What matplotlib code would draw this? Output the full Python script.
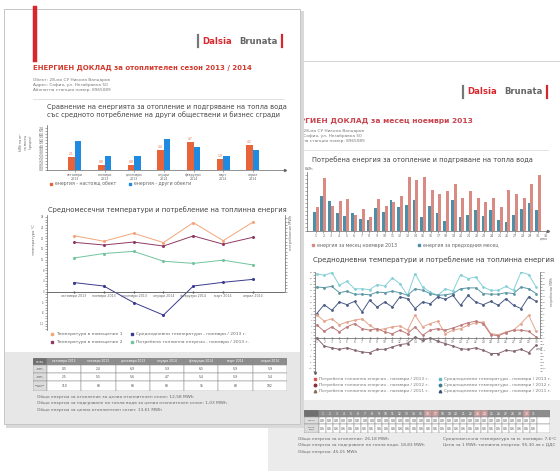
import matplotlib
matplotlib.use("Agg")
import matplotlib.pyplot as plt
from matplotlib.patches import Rectangle
from matplotlib.lines import Line2D

W, H = 560, 471

# ---- left page data (heating season 2013/2014) ----
months = ["октомври\n2013", "ноември\n2013", "декември\n2013", "януари\n2014",
          "февруари\n2014", "март\n2014", "април\n2014"]
months_long = ["октомври 2013", "ноември 2013", "декември 2013", "януари 2014",
               "февруари 2014", "март 2014", "април 2014"]
energy_site = [2.1, 0.8, 0.8, 3.4, 4.7, 1.9, 4.2]
energy_others = [4.8, 2.4, 2.4, 5.1, 3.8, 2.4, 3.4]
room1 = [21.0, 18.9, 21.9, 18.4, 25.9, 19.1, 26.1]
room2 = [18.5, 17.5, 18.6, 17.1, 20.9, 17.8, 20.4]
outdoor = [3.4, 2.1, -4.1, -8.8, 2.1, 3.5, 4.6]
heat_mwh = [2.52, 2.86, 3.02, 2.28, 2.12, 2.36, 2.00]
season_rows = ["темп.\nпом. 1", "темп.\nпом. 2", "енергия\nMWh"]
season_table = [["0.5", "2.4", "6.9", "5.9", "6.5", "5.9", "5.9"],
                ["2.5", "5.5", "5.6", "4.7", "5.4", "5.9", "5.4"],
                ["110", "88", "88", "88", "95", "88", "102"]]
season_totals = ["Общо енергия за отопление за целия отоплителен сезон: 12,58 MWh",
                 "Общо енергия за подгряване на топла вода за целия отоплителен сезон: 1,03 MWh",
                 "Общо енергия за целия отоплителен сезон: 13,61 MWh"]

# ---- right page data (November 2013) ----
days = list(range(1, 31))
day_ticks = list(range(1, 32))
energy_nov = [600, 1325, 625, 750, 800, 400, 550, 350, 800, 625, 725, 875, 1350, 1275, 1350,
              1025, 925, 1000, 1175, 825, 1000, 825, 725, 825, 600, 1025, 925, 825, 1175, 1400]
energy_prev = [475, 875, 750, 450, 375, 450, 300, 275, 575, 475, 775, 600, 650, 775, 350,
               625, 450, 250, 775, 350, 400, 525, 375, 525, 275, 225, 400, 550, 700, 525]
temp_2013 = [21.5, 21.0, 21.9, 17.7, 19.0, 16.5, 16.5, 16.2, 17.9, 17.4, 20.1, 18.2, 14.3, 21.5, 17.1,
             15.4, 14.3, 16.5, 15.7, 21.2, 19.9, 20.4, 17.1, 16.0, 16.0, 17.3, 16.0, 22.1, 21.2, 17.1]
temp_2012 = [17.1, 16.9, 17.3, 15.2, 15.7, 14.7, 14.7, 14.5, 15.4, 15.2, 15.7, 15.2, 14.3, 16.5, 16.0,
             14.9, 14.3, 14.5, 14.9, 16.5, 16.8, 16.8, 14.9, 14.7, 14.7, 15.2, 14.9, 17.1, 16.5, 14.9]
temp_2011 = [8.2, 11.2, 9.3, 12.1, 11.2, 12.3, 8.8, 12.7, 10.4, 12.1, 10.4, 13.8, 13.2, 9.9, 12.1,
             11.5, 13.8, 13.0, 14.3, 11.0, 14.3, 12.1, 11.2, 12.3, 11.0, 13.2, 11.0, 9.9, 13.8, 12.3]
heat_2013 = [7.9, 5.7, 6.5, 4.5, 5.4, 6.0, 6.5, 4.3, 2.7, 3.2, 3.8, 4.1, 2.7, 7.7, 3.8,
             4.9, 5.7, 1.5, 2.7, 3.2, 4.3, 5.2, 5.4, 1.5, 1.2, 2.1, 2.7, 4.9, 7.7, 2.3]
heat_2012 = [4.5, 2.3, 3.8, 2.1, 3.8, 4.9, 3.2, 2.7, 3.2, 2.1, 1.5, 2.7, 1.5, 3.8, 1.0,
             2.7, 3.2, 2.7, 3.4, 4.3, 5.2, 5.7, 4.9, 1.2, 0.8, 1.9, 2.7, 2.7, 2.3, 0.4]
heat_2011 = [0.1, -2.6, -3.2, -3.7, -3.2, -4.0, -4.6, -4.8, -3.7, -3.7, -2.9, -2.1, -1.8, 0.4, -0.7,
             0.1, -1.0, -1.8, -2.6, -3.5, -3.7, -3.2, -4.0, -5.1, -5.1, -4.0, -4.3, -3.7, -4.8, -2.3]
daily_heat = ["0.8"] * 31
daily_water = ["0.6"] * 31
month_totals = ["Общо енергия за отопление: 26,18 MWh",
                "Общо енергия за подгряване на топла вода: 18,83 MWh",
                "Общо енергия: 45,01 MWh"]
month_notes = ["Средномесечна температура за м. ноември: 7,6°C",
               "Цена за 1 MWh топлинна енергия: 95,30 лв с ДДС"]

RED = "#d9262c"
GRAY_TXT = "#555555"

fig = plt.figure(figsize=(W / 100, H / 100), dpi=100)
fig.patch.set_facecolor("white")


def box(x0, y0, x1, y1):
    return [x0 / W, 1 - y1 / H, (x1 - x0) / W, (y1 - y0) / H]


def rect(x0, y0, x1, y1, fc, ec="none", lw=0.5, z=0):
    fig.add_artist(Rectangle((x0 / W, 1 - y1 / H), (x1 - x0) / W, (y1 - y0) / H,
                             transform=fig.transFigure, facecolor=fc, edgecolor=ec,
                             linewidth=lw, zorder=z))


def line(xs, ys, color, lw=0.6, z=0):
    fig.add_artist(Line2D([x / W for x in xs], [1 - y / H for y in ys],
                          transform=fig.transFigure, color=color, lw=lw, zorder=z))


def txt(x, y, s, size, color=GRAY_TXT, z=0, **kw):
    kw.setdefault("va", "center")
    fig.text(x / W, 1 - y / H, s, fontsize=size, color=color, zorder=z, **kw)


def mark(x, y, color, m, size, z):
    fig.add_artist(Line2D([x / W], [1 - y / H], transform=fig.transFigure, marker=m,
                          color=color, markersize=size, linestyle="none", zorder=z))


def logo(x, y, z):
    line([x, x], [y - 6, y + 6], "#777777", lw=1.6, z=z)
    txt(x + 4, y, "Dalsia", 6.1, RED, z, weight="bold")
    txt(x + 41, y, "Brunata", 6.1, "#666666", z, weight="bold")
    line([x + 84, x + 84], [y - 6, y + 6], RED, lw=1.6, z=z)


def style_small(ax):
    for s in ax.spines.values():
        s.set_color("#666666")
        s.set_linewidth(0.5)
    ax.tick_params(length=1.2, width=0.4, pad=0.8, labelsize=2.3, colors="#666666")


def table(ax, x0, x1, y_rows, col_w0, headers, rows, row_labels, hdr_colors=None):
    ax.set_xlim(x0, x1)
    ax.set_ylim(y_rows[-1], y_rows[0])
    ax.axis("off")
    n = len(headers)
    cw = (x1 - x0 - col_w0 - (0 if hdr_colors is None else 13)) / n
    xs = [x0, x0 + col_w0] + [x0 + col_w0 + cw * (i + 1) for i in range(n)]
    if hdr_colors is not None:
        xs.append(x1)
    for r in range(len(y_rows) - 1):
        ya, yb = y_rows[r], y_rows[r + 1]
        for c in range(len(xs) - 1):
            if r == 0:
                fc = "#6f6f6f" if c == 0 else "#8d8d8d"
                if hdr_colors is not None and 0 < c <= n and hdr_colors[c - 1]:
                    fc = "#c99a9a"
            else:
                fc = "#dcdcdc" if c == 0 else "white"
            ax.add_patch(Rectangle((xs[c], ya), xs[c + 1] - xs[c], yb - ya, facecolor=fc,
                                   edgecolor="#8a8a8a", linewidth=0.35))
            cx = (xs[c] + xs[c + 1]) / 2
            cy = (ya + yb) / 2
            if r == 0 and 0 < c <= n:
                ax.text(cx, cy, headers[c - 1], fontsize=2.2, color="white", ha="center", va="center")
            elif r > 0 and c == 0:
                ax.text(cx, cy, row_labels[r - 1], fontsize=1.7, color="#555555", ha="center", va="center")
            elif r > 0 and c <= n:
                ax.text(cx, cy, rows[r - 1][c - 1], fontsize=2.2, color="#444444", ha="center", va="center")
    if hdr_colors is None:
        ax.text((xs[0] + xs[1]) / 2, (y_rows[0] + y_rows[1]) / 2, "месец", fontsize=1.8,
                color="white", ha="center", va="center")


# ================= right page (behind) =================
rect(268, 61, 562, 473, "white", ec="#cccccc", lw=0.6, z=-3)
rect(268, 400, 562, 473, "#ebebeb", z=-2)
logo(463, 92, 1)
txt(283, 121, "ЕНЕРГИЕН ДОКЛАД за месец ноември 2013", 5.4, "#c9434c", 1, weight="bold")
txt(287, 131, "Обект: 28-мо СУ Никола Вапцаров", 3.1, "#777777", 1)
txt(287, 136, "Адрес: София, ул. Незабравка 50", 3.1, "#777777", 1)
txt(287, 141, "Абонатна станция номер: 8965089", 3.1, "#777777", 1)
line([300, 548], [150, 150], "#dddddd", lw=0.6, z=1)
txt(312, 160, "Потребена енергия за отопление и подгряване на топла вода", 4.8, "#444444", 1)

ax = fig.add_axes(box(307, 172, 548, 231), zorder=1)
ax.set_facecolor("none")
ax.bar([d - 0.19 for d in days], energy_prev, width=0.36, color="#4d8fa6")
ax.bar([d + 0.19 for d in days], energy_nov, width=0.36, color="#d98a82")
ax.set_xlim(-0.13, 31.3)
ax.set_ylim(0, 1475)
ax.set_xticks(day_ticks)
ax.set_yticks(range(0, 1500, 100))
ax.spines["top"].set_visible(False)
ax.spines["right"].set_visible(False)
style_small(ax)
ax.plot(1, 0, ">", color="#666666", markersize=1.5, transform=ax.transAxes, clip_on=False)
txt(305, 169, "kWh", 2.8, "#666666", 1)
txt(540, 239, "дни", 2.8, "#666666", 1)
mark(313, 245, "#d98a82", "s", 2, 1)
txt(317, 245, "енергия за месец ноември 2013", 3.4, "#666666", 1)
mark(419, 245, "#4d8fa6", "s", 2, 1)
txt(423, 245, "енергия за предходния месец", 3.4, "#666666", 1)

txt(313, 260, "Среднодневни температури и потребление на топлинна енергия", 5.0, "#444444", 1)
ax = fig.add_axes(box(315, 272, 540, 373), zorder=1)
ax.set_facecolor("none")
right_series = [(temp_2013, "#86d0d8"), (temp_2012, "#5b98a6"), (temp_2011, "#4b5d85"),
                (heat_2013, "#e3a58f"), (heat_2012, "#bf7c7c"), (heat_2011, "#86686f")]
for vals, col in right_series:
    ax.plot(days, vals, color=col, lw=0.7, marker="o", markersize=1.0)
ax.axhline(0, color="#777777", lw=0.6)
ax.plot(days, [0] * len(days), "|", color="#777777", markersize=2)
for d in days:
    ax.text(d, -0.7, str(d), fontsize=2.1, color="#666666", ha="center", va="top")
ax.set_xlim(0.78, 30.5)
ax.set_ylim(-11.6, 22.1)
ax.set_xticks([])
ax.set_yticks(range(-11, 23, 1))
ax.set_yticklabels([str(v) if v % 2 == 0 else "" for v in range(-11, 23, 1)])
ax.spines["top"].set_visible(False)
ax.spines["bottom"].set_visible(False)
ax.spines["right"].set_bounds(0, 22)
ax.yaxis.set_ticks_position("both")
style_small(ax)
ax.tick_params(axis="y", labelsize=1.6, labelright=True)
ax.plot(0, 0, "v", color="#666666", markersize=1.5, transform=ax.transAxes, clip_on=False)
txt(536, 348, "дни", 2.6, "#666666", 1)
txt(552, 292, "потребление MWh", 2.2, "#666666", 1, rotation=90, ha="center")
right_legend = [(315, 379, "#d9534f", "s", "Потребена топлинна енергия - ноември / 2013 г."),
                (315, 385, "#8b2e3c", "o", "Потребена топлинна енергия - ноември / 2012 г."),
                (315, 391, "#8a6a50", "^", "Потребена топлинна енергия - ноември / 2011 г."),
                (440, 379, "#5fb8c4", "s", "Среднодневни температури - ноември / 2013 г."),
                (440, 385, "#3f8090", "o", "Среднодневни температури - ноември / 2012 г."),
                (440, 391, "#3b4f7a", "^", "Среднодневни температури - ноември / 2011 г.")]
for x, y, col, m, lab in right_legend:
    mark(x, y, col, m, 1.8, 1)
    txt(x + 4, y, lab, 3.1, "#777777", 1)

tax = fig.add_axes(box(304, 410, 550, 433), zorder=1)
weekend = [d in (16, 17, 23, 24, 30) for d in day_ticks]
table(tax, 304, 550, [410, 417, 424, 433], 15, [str(d) for d in day_ticks],
      [daily_heat, daily_water], ["отопл.", "топла\nвода"], hdr_colors=weekend)
for i, s in enumerate(month_totals):
    txt(298, 439 + 6.3 * i, s, 3.1, "#666666", 1)
for i, s in enumerate(month_notes):
    txt(443, 439 + 6.3 * i, s, 3.1, "#666666", 1)

# ================= left page (front) =================
rect(6, 11, 304, 428, "#d9d9d9", z=4.5)
rect(4, 9, 300, 424, "white", z=5)
rect(4, 352, 300, 424, "#e7e7e7", z=5.1)
rect(4, 9, 300, 424, "none", ec="#c6c6c6", lw=0.7, z=5.2)
line([35, 35], [8, 60], RED, lw=3.2, z=7)
logo(198, 41, 7)
txt(33, 68, "ЕНЕРГИЕН ДОКЛАД за отоплителен сезон 2013 / 2014", 5.0, "#d23a2e", 7, weight="bold")
txt(33, 80, "Обект: 28-мо СУ Никола Вапцаров", 3.1, "#777777", 7)
txt(33, 85, "Адрес: София, ул. Незабравка 50", 3.1, "#777777", 7)
txt(33, 90, "Абонатна станция номер: 8965089", 3.1, "#777777", 7)
line([33, 284], [99, 99], "#dddddd", lw=0.6, z=7)
txt(47, 107, "Сравнение на енергията за отопление и подгряване на топла вода", 4.8, "#444444", 7)
txt(47, 115, "със средното потребление на други обществени и бизнес сгради", 4.8, "#444444", 7)

ax = fig.add_axes(box(47, 125, 285, 170), zorder=6)
ax.set_facecolor("none")
idx = list(range(len(months)))
ax.bar([i - 0.11 for i in idx], energy_site, width=0.22, color="#e8633a")
ax.bar([i + 0.11 for i in idx], energy_others, width=0.22, color="#1f8ae0")
for i, v in zip(idx, energy_site):
    ax.text(i - 0.11, v + 0.15, f"{v:.1f}", fontsize=2.2, color="#e8633a", ha="center", va="bottom")
ax.set_xlim(-0.94, 7.08)
ax.set_ylim(0, 7.5)
ax.set_xticks(idx)
ax.set_xticklabels(months)
ax.set_yticks([v / 2 for v in range(0, 15)])
ax.spines["top"].set_visible(False)
ax.spines["right"].set_visible(False)
style_small(ax)
ax.tick_params(axis="x", labelsize=2.3)
ax.plot(1, 0, ">", color="#666666", markersize=1.5, transform=ax.transAxes, clip_on=False)
txt(26, 142, "kWh на m²\nза месец\n(средно)", 2.3, "#666666", 7, rotation=90, ha="center")
mark(51, 184, "#e8633a", "s", 2, 7)
txt(55, 184, "енергия - настоящ обект", 3.3, "#666666", 7)
mark(130, 184, "#1f8ae0", "s", 2, 7)
txt(134, 184, "енергия - други обекти", 3.3, "#666666", 7)

txt(48, 210, "Средномесечни температури и потребление на топлинна енергия", 4.9, "#444444", 7)
ax = fig.add_axes(box(47, 215, 285, 330), zorder=6)
ax.set_facecolor("none")
ax.plot(idx, room1, color="#f2a57a", lw=0.7, marker="o", markersize=1.2)
ax.plot(idx, room2, color="#8e3a64", lw=0.7, marker="o", markersize=1.2)
ax.plot(idx, outdoor, color="#3a3b8e", lw=0.7, marker="o", markersize=1.2)
ax.axhline(0, color="#555555", lw=0.6)
ax.plot(idx, [0] * len(idx), "|", color="#555555", markersize=2)
for i in idx:
    ax.text(i, -1.0, months_long[i], fontsize=2.3, color="#666666", ha="center", va="top")
ax.set_xlim(-0.9, 7.07)
ax.set_ylim(-14.4, 28.75)
ax.set_xticks([])
ax.set_yticks(range(-14, 29, 1))
ax.set_yticklabels([str(v) if v % 4 == 0 else "" for v in range(-14, 29, 1)])
for s in ("top", "bottom", "right"):
    ax.spines[s].set_visible(False)
style_small(ax)
ax.tick_params(axis="y", labelsize=1.8)
ax2 = ax.twinx()
ax2.set_zorder(6.1)
ax2.plot(idx, heat_mwh, color="#72c49d", lw=0.7, marker="o", markersize=1.2)
ax2.set_ylim(-2.88, 5.75)
ax2.set_yticks([v / 4 for v in range(0, 23)])
ax2.set_yticklabels(["" for v in range(0, 23)])
for s in ("top", "bottom", "left"):
    ax2.spines[s].set_visible(False)
ax2.spines["right"].set_bounds(0, 5.75)
style_small(ax2)
txt(34, 240, "температура °C", 2.6, "#666666", 7, rotation=90, ha="center")
txt(291, 232, "потребление MWh", 2.6, "#666666", 7, rotation=90, ha="center")
left_legend = [(52, 334, "#f2a57a", "Температура в помещение 1"),
               (52, 342, "#8e3a64", "Температура в помещение 2"),
               (132, 334, "#3a3b8e", "Среднодневни температури - ноември / 2013 г."),
               (132, 342, "#72c49d", "Потребена топлинна енергия - ноември / 2013 г.")]
for x, y, col, lab in left_legend:
    mark(x, y, col, "s", 1.8, 7)
    txt(x + 4, y, lab, 3.2, "#666666", 7)

tax = fig.add_axes(box(33, 358, 287, 391), zorder=6)
table(tax, 33, 287, [358, 365, 373, 381, 391], 14, months_long, season_table, season_rows)
for i, s in enumerate(season_totals):
    txt(37, 397 + 6.3 * i, s, 3.1, "#666666", 7)

fig.savefig("out.png", dpi=100)
